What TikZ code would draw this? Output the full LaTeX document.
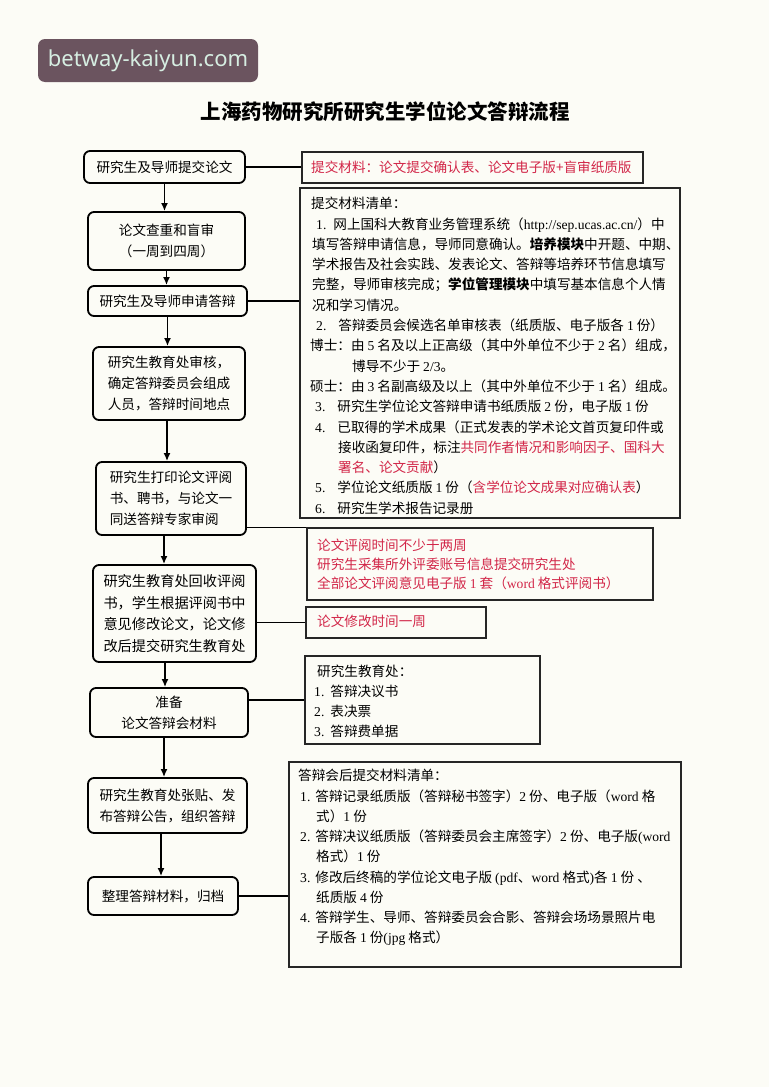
\documentclass[tikz,border=0pt]{standalone}
\usepackage{fontspec}
\setmainfont{Noto Sans CJK SC}
\newfontfamily\latin{Liberation Serif}
\newfontfamily\wmfont{Noto Sans}
\usetikzlibrary{arrows.meta}
\definecolor{pagebg}{RGB}{252,252,246}
\definecolor{notered}{RGB}{210,38,72}
\definecolor{markbg}{RGB}{107,84,95}
\definecolor{marktext}{RGB}{214,238,226}
\newcommand{\en}[1]{{\latin #1}}
\newcommand{\hl}[1]{\textcolor{notered}{#1}}
\tikzset{
  step_box/.style = {draw=black, line width=1.8pt, rounded corners=6pt,
    align=center, inner sep=0pt, font=\fontsize{13.6}{21}\selectfont},
  step_left/.style = {step_box, align=left},
  note_box/.style = {draw=black!85, line width=1.4pt, inner sep=0pt},
  note_text/.style = {anchor=north west, align=left, inner sep=0pt,
    font=\fontsize{13.6}{20.3}\selectfont},
  wm_box/.style = {fill=markbg, rounded corners=7pt, inner sep=0pt,
    minimum width=220pt, minimum height=43pt, text=marktext,
    font=\wmfont\fontsize{22}{22}\selectfont},
  link/.style = {line width=1.4pt},
  flow/.style = {line width=1.6pt, -{Latex[length=8pt,width=7pt]}}}

\begin{document}
\begin{tikzpicture}[x=1pt,y=-1pt]
\fill[pagebg] (0,0) rectangle (769,1087);
\useasboundingbox (0,0) rectangle (769,1087);

\node[wm_box] (mark) at (148,60.5) {betway-kaiyun.com};
\node[font=\bfseries\fontsize{20.5}{22}\selectfont] (title) at (385,111.5)
  {上海药物研究所研究生学位论文答辩流程};

% left column
\node[step_box, minimum width=161pt, minimum height=32pt] (submit) at (164.5,167)
  {研究生及导师提交论文};
\node[step_box, minimum width=157pt, minimum height=58pt] (check) at (166.5,241)
  {论文查重和盲审\\（一周到四周）};
\node[step_box, minimum width=159pt, minimum height=30pt] (apply) at (167.5,301)
  {研究生及导师申请答辩};
\node[step_left, minimum width=152pt, minimum height=73pt] (review) at (169,383.5)
  {研究生教育处审核，\\确定答辩委员会组成\\人员，答辩时间地点};
\node[step_left, minimum width=150pt, minimum height=73pt] (print) at (171,498.5)
  {研究生打印论文评阅\\书、聘书，与论文一\\同送答辩专家审阅};
\node[step_left, minimum width=163pt, minimum height=97pt,
  font=\fontsize{14.2}{21.5}\selectfont] (revise) at (174.5,613.5)
  {研究生教育处回收评阅\\书，学生根据评阅书中\\意见修改论文，论文修\\改后提交研究生教育处};
\node[step_box, minimum width=158pt, minimum height=49pt] (prepare) at (169,712.5)
  {准备\\论文答辩会材料};
\node[step_left, minimum width=159pt, minimum height=55pt] (announce) at (167.5,805.5)
  {研究生教育处张贴、发\\布答辩公告，组织答辩};
\node[step_box, minimum width=150pt, minimum height=38pt] (archive) at (163,896)
  {整理答辩材料，归档};

\draw[flow] (submit.south) -- (submit.south |- check.north);
\draw[flow] (check.south) -- (check.south |- apply.north);
\draw[flow] (apply.south) -- (apply.south |- review.north);
\draw[flow] (review.south -| 167,0) -- (print.north -| 167,0);
\draw[flow] (print.south -| 164,0) -- (revise.north -| 164,0);
\draw[flow] (revise.south -| 165,0) -- (prepare.north -| 165,0);
\draw[flow] (prepare.south -| 164,0) -- (announce.north -| 164,0);
\draw[flow] (announce.south -| 161,0) -- (archive.north -| 161,0);

% right column
\node[note_box, minimum width=341pt, minimum height=31pt] (submitnote) at (472.5,167.5) {};
\node[note_text, text=notered] (submittext) at (311,161)
  {提交材料：论文提交确认表、论文电子版+盲审纸质版};

\node[note_box, minimum width=380pt, minimum height=330pt] (listnote) at (490,353) {};
\node[note_text] (listtext) at (310,197) {%
\hspace*{1pt}提交材料清单：\\
\hspace*{6pt}\en{1.}\hspace{7pt}网上国科大教育业务管理系统（\en{http://sep.ucas.ac.cn/}）中\\
\hspace*{2pt}填写答辩申请信息，导师同意确认。\textbf{培养模块}中开题、中期、\\
\hspace*{2pt}学术报告及社会实践、发表论文、答辩等培养环节信息填写\\
\hspace*{2pt}完整，导师审核完成；\textbf{学位管理模块}中填写基本信息个人情\\
\hspace*{2pt}况和学习情况。\\
\hspace*{6pt}\en{2.}\hspace{12pt}答辩委员会候选名单审核表（纸质版、电子版各 \en{1} 份）\\
博士：由 \en{5} 名及以上正高级（其中外单位不少于 \en{2} 名）组成，\\
\hspace*{42pt}博导不少于 \en{2/3}。\\
硕士：由 \en{3} 名副高级及以上（其中外单位不少于 \en{1} 名）组成。\\
\hspace*{5pt}\en{3.}\hspace{12pt}研究生学位论文答辩申请书纸质版 \en{2} 份，电子版 \en{1} 份\\
\hspace*{5pt}\en{4.}\hspace{12pt}已取得的学术成果（正式发表的学术论文首页复印件或\\
\hspace*{28pt}接收函复印件，标注\hl{共同作者情况和影响因子、国科大}\\
\hspace*{28pt}\hl{署名、论文贡献}）\\
\hspace*{5pt}\en{5.}\hspace{12pt}学位论文纸质版 \en{1} 份（\hl{含学位论文成果对应确认表}）\\
\hspace*{5pt}\en{6.}\hspace{12pt}研究生学术报告记录册};

\node[note_box, minimum width=346pt, minimum height=72pt] (reviewnote) at (480,564) {};
\node[note_text, text=notered, font=\fontsize{13.6}{19}\selectfont] (reviewtext) at (317,539)
  {论文评阅时间不少于两周\\
   研究生采集所外评委账号信息提交研究生处\\
   全部论文评阅意见电子版 \en{1} 套（\en{word} 格式评阅书）};

\node[note_box, minimum width=180pt, minimum height=31pt] (revisenote) at (396,622.5) {};
\node[note_text, text=notered] (revisetext) at (317,615) {论文修改时间一周};

\node[note_box, minimum width=235pt, minimum height=88pt] (officenote) at (422.5,700) {};
\node[note_text, font=\fontsize{13.6}{20}\selectfont] (officetext) at (314,665)
  {\hspace*{3pt}研究生教育处：\\
   \en{1.}\hspace{6pt}答辩决议书\\
   \en{2.}\hspace{6pt}表决票\\
   \en{3.}\hspace{6pt}答辩费单据};

\node[note_box, minimum width=392pt, minimum height=205pt] (afternote) at (485,864.5) {};
\node[note_text, font=\fontsize{13.6}{20.25}\selectfont] (aftertext) at (298,769) {%
答辩会后提交材料清单：\\
\hspace*{2pt}\en{1.}\hspace{5pt}答辩记录纸质版（答辩秘书签字）\en{2} 份、电子版（\en{word} 格\\
\hspace*{18pt}式）\en{1} 份\\
\hspace*{2pt}\en{2.}\hspace{5pt}答辩决议纸质版（答辩委员会主席签字）\en{2} 份、电子版\en{(word}\\
\hspace*{18pt}格式）\en{1} 份\\
\hspace*{2pt}\en{3.}\hspace{5pt}修改后终稿的学位论文电子版 \en{(pdf}、\en{word} 格式\en{)}各 \en{1} 份 、\\
\hspace*{18pt}纸质版 \en{4} 份\\
\hspace*{2pt}\en{4.}\hspace{5pt}答辩学生、导师、答辩委员会合影、答辩会场场景照片电\\
\hspace*{18pt}子版各 \en{1} 份\en{(jpg} 格式）};

\draw[link] (submit.east) -- (submit.east -| submitnote.west);
\draw[link] (apply.east) -- (apply.east -| listnote.west);
\draw[link] (print.east |- reviewnote.north west) -- (reviewnote.north west);
\draw[link] (revise.east |- revisenote.west) -- (revisenote.west);
\draw[link] (prepare.east |- officenote.west) -- (officenote.west);
\draw[link] (archive.east) -- (archive.east -| afternote.west);
\end{tikzpicture}
\end{document}
